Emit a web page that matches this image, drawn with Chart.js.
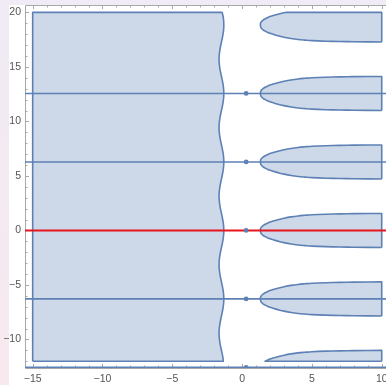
<!DOCTYPE html>
<html>
<head>
<meta charset="utf-8">
<script src="https://cdn.jsdelivr.net/npm/chart.js@4.4.1/dist/chart.umd.min.js"></script>
<style>
  html, body { margin: 0; padding: 0; width: 386px; height: 385px; overflow: hidden;
               background: linear-gradient(#f0ebf5, #f8e9ef); }
  #panel { position: absolute; left: 9px; top: 5px; right: 0; bottom: 0; background: #ffffff; }
  #wrap { position: absolute; left: 0; top: 0; width: 392px; height: 385px; }
</style>
</head>
<body>
<div id="panel"></div>
<div id="wrap"><canvas id="c" width="392" height="385"></canvas></div>
<script>
// ---- axes ----
const xRange = [-15.55, 10.45];
const yRange = [-12.62, 20.68];
const xTicks = [-15, -10, -5, 0, 5, 10];
const yTicks = [-10, -5, 0, 5, 10, 15, 20];

// ---- horizontal reference lines y = 2πk and their marker points ----
const lineLevels = [-4 * Math.PI, -2 * Math.PI, 0, 2 * Math.PI, 4 * Math.PI];
const markerX = 0.29;

// ---- plotted region limits ----
const regionLeftX = -15;
const regionRightX = 10;
const regionYMin = -12;
const regionYMax = 20;

// left region: right-hand wavy boundary, x as a function of the phase y - 2πk
const edgePhase = [0, 0.4, 0.8, 1.2, 1.6, 2.0, 2.4, 2.8, Math.PI];
const edgeX = [-1.31, -1.323, -1.362, -1.418, -1.485, -1.551, -1.605, -1.64, -1.65];
const edgeTopX = -1.43;
const edgeBottomX = -1.35;

// right-hand lobes centred on y = 2πk: half-height as a function of x
const blobCenters = [-4 * Math.PI, -2 * Math.PI, 0, 2 * Math.PI, 4 * Math.PI, 6 * Math.PI];
const blobX = [1.31, 1.34, 1.4, 1.5, 1.65, 1.8, 2.0, 2.3, 2.7, 3.0, 3.5, 4.0, 4.5, 5.0, 6.0, 7.0, 8.0, 10.0];
const blobHalfHeight = [0, 0.22, 0.33, 0.45, 0.57, 0.66, 0.77, 0.89, 1.03, 1.12, 1.24, 1.33, 1.39, 1.44, 1.49, 1.52, 1.54, 1.56];

// ---- styles ----
const BLUE = '#5e81b5';
const RED = '#e8141b';
const FILL = 'rgba(94,129,181,0.31)';
const TICK_FONT = { family: "'Liberation Sans', Arial, sans-serif", size: 10.5 };

// Keep only the part of a closed outline between lo and hi, inserting the crossing points.
function clipRing(ring, lo, hi) {
  const out = [];
  const inside = p => p.y >= lo - 1e-9 && p.y <= hi + 1e-9;
  for (let i = 0; i < ring.length; i++) {
    const p = ring[i], q = ring[(i + 1) % ring.length];
    if (inside(p)) out.push(p);
    for (const b of [lo, hi]) {
      if ((p.y - b) * (q.y - b) < 0) {
        const t = (b - p.y) / (q.y - p.y);
        out.push({ x: p.x + t * (q.x - p.x), y: b, corner: true });
      }
    }
  }
  return out;
}

// Turn an outline into line data: corners are doubled so the smoothing keeps straight edges.
function ringToData(ring) {
  const data = [];
  ring.forEach(p => {
    data.push({ x: p.x, y: p.y });
    if (p.corner) data.push({ x: p.x, y: p.y });
  });
  data.push({ x: ring[0].x, y: ring[0].y });
  return data;
}

function leftRegion() {
  const tau = 2 * Math.PI;
  const seen = new Set();
  const edge = [];
  for (let k = -3; k <= 4; k++) {
    edgePhase.forEach((p, i) => {
      [k * tau - p, k * tau + p].forEach(y => {
        const key = y.toFixed(4);
        if (y > regionYMin && y < regionYMax && !seen.has(key)) {
          seen.add(key);
          edge.push({ x: edgeX[i], y });
        }
      });
    });
  }
  edge.sort((a, b) => b.y - a.y);
  const ring = [
    { x: regionLeftX, y: regionYMin, corner: true },
    { x: regionLeftX, y: regionYMax, corner: true },
    { x: edgeTopX, y: regionYMax, corner: true },
    ...edge,
    { x: edgeBottomX, y: regionYMin, corner: true }
  ];
  return ringToData(ring);
}

function blobRegion(c) {
  const n = blobX.length;
  const ring = [];
  ring.push({ x: blobX[n - 1], y: c - blobHalfHeight[n - 1], corner: true });
  ring.push({ x: blobX[n - 1], y: c + blobHalfHeight[n - 1], corner: true });
  for (let i = n - 2; i >= 0; i--) ring.push({ x: blobX[i], y: c + blobHalfHeight[i] });
  for (let i = 1; i <= n - 2; i++) ring.push({ x: blobX[i], y: c - blobHalfHeight[i] });
  return ringToData(clipRing(ring, regionYMin, regionYMax));
}

const datasets = [];
// marker points on the reference lines
datasets.push({
  data: lineLevels.map(y => ({ x: markerX, y })),
  showLine: false, pointRadius: 2.4, pointBorderWidth: 0,
  pointBackgroundColor: BLUE, borderColor: BLUE
});
// reference lines
lineLevels.forEach(y => {
  datasets.push({
    data: [{ x: xRange[0], y }, { x: xRange[1], y }],
    borderColor: y === 0 ? RED : BLUE,
    borderWidth: y === 0 ? 2 : 1.6,
    pointRadius: 0, fill: false, tension: 0
  });
});
// filled regions
const regionStyle = {
  borderColor: BLUE, borderWidth: 1.6, backgroundColor: FILL,
  fill: 'shape', pointRadius: 0, tension: 0.35, borderJoinStyle: 'round'
};
datasets.push(Object.assign({ data: leftRegion() }, regionStyle));
blobCenters.forEach(c => datasets.push(Object.assign({ data: blobRegion(c) }, regionStyle)));

const fmt = v => (v < 0 ? '\u2212' + Math.abs(v) : String(v));

// frame with inward tick marks on left, top and bottom edges
const framePlugin = {
  id: 'frame',
  beforeDatasetsDraw(chart) {
    const { ctx, chartArea: a, scales: { x, y } } = chart;
    ctx.save();
    ctx.strokeStyle = '#a8a8a8';
    ctx.lineWidth = 1;
    ctx.beginPath();
    ctx.moveTo(a.left + 0.5, a.bottom + 0.5);
    ctx.lineTo(a.left + 0.5, a.top + 0.5);
    ctx.lineTo(a.right + 5, a.top + 0.5);
    ctx.moveTo(a.left + 0.5, a.bottom + 0.5);
    ctx.lineTo(a.right + 5, a.bottom + 0.5);
    for (let v = Math.ceil(x.min); v <= Math.floor(x.max); v++) {
      const px = Math.round(x.getPixelForValue(v)) + 0.5;
      const len = v % 5 === 0 ? 4 : 2.5;
      ctx.moveTo(px, a.top); ctx.lineTo(px, a.top + len);
      ctx.moveTo(px, a.bottom); ctx.lineTo(px, a.bottom - len);
    }
    for (let v = Math.ceil(y.min); v <= Math.floor(y.max); v++) {
      const py = Math.round(y.getPixelForValue(v)) + 0.5;
      const len = v % 5 === 0 ? 4 : 2.5;
      ctx.moveTo(a.left, py); ctx.lineTo(a.left + len, py);
    }
    ctx.stroke();
    ctx.restore();
  }
};

new Chart(document.getElementById('c'), {
  type: 'line',
  data: { datasets },
  plugins: [framePlugin],
  options: {
    responsive: false,
    animation: false,
    devicePixelRatio: 1,
    events: [],
    layout: { padding: { top: 5, right: 4, left: 0, bottom: 0 } },
    plugins: { legend: { display: false }, tooltip: { enabled: false } },
    scales: {
      x: {
        type: 'linear', min: xRange[0], max: xRange[1],
        afterFit(s) { s.height = 17; s.paddingLeft = 0; s.paddingRight = 0; },
        afterBuildTicks(s) { s.ticks = xTicks.map(v => ({ value: v })); },
        grid: { display: false, drawTicks: false },
        border: { display: false },
        ticks: { padding: 5, color: '#555', font: TICK_FONT, callback: fmt, maxRotation: 0, autoSkip: false }
      },
      y: {
        type: 'linear', min: yRange[0], max: yRange[1],
        afterFit(s) { s.width = 25; s.paddingTop = 0; s.paddingBottom = 0; },
        afterBuildTicks(s) { s.ticks = yTicks.map(v => ({ value: v })); },
        grid: { display: false, drawTicks: false },
        border: { display: false },
        ticks: { padding: 4, color: '#555', font: TICK_FONT, callback: fmt, autoSkip: false }
      }
    }
  }
});
</script>
</body>
</html>
